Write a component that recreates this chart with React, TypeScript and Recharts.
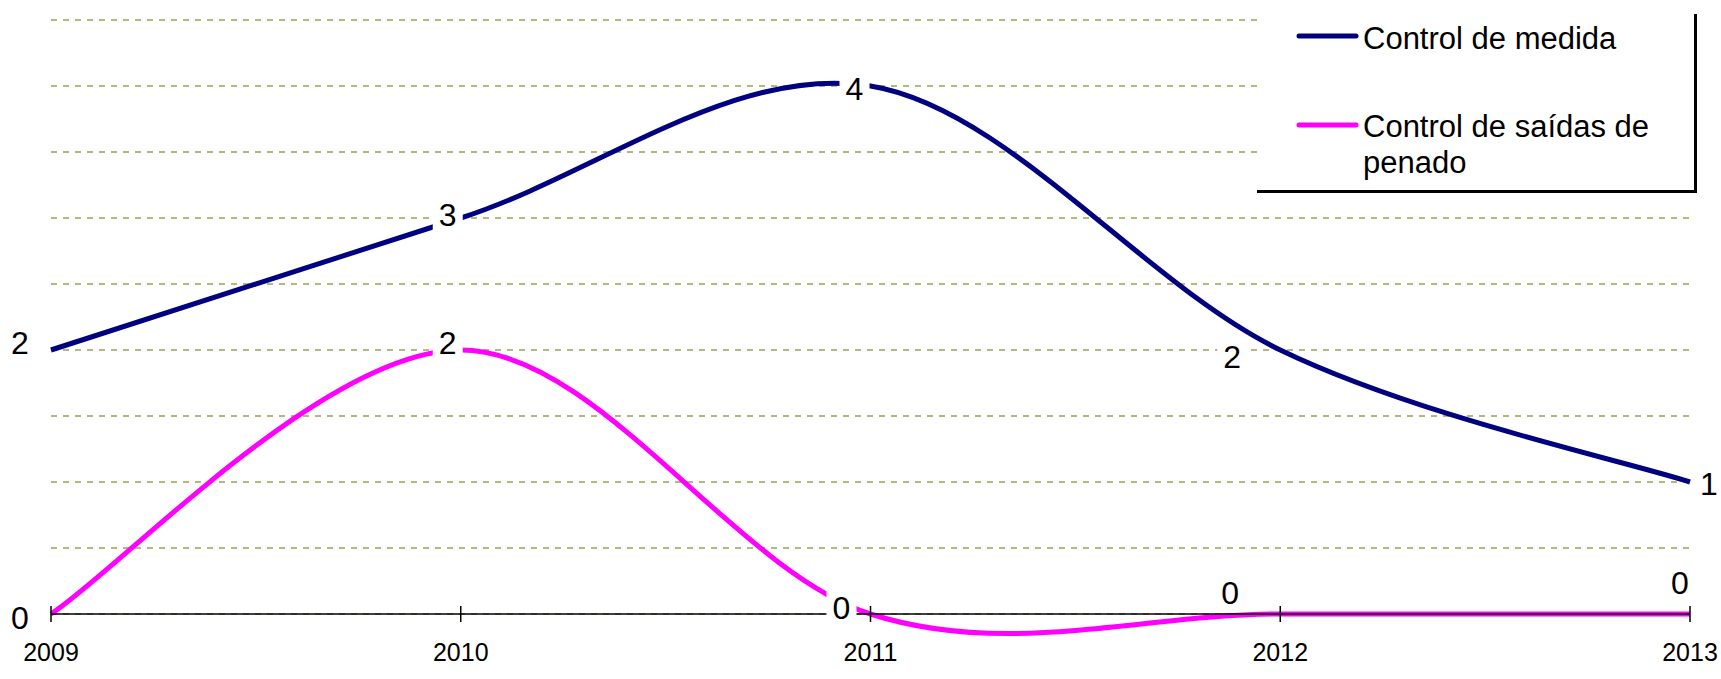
import { LineChart, Line, XAxis, YAxis, CartesianGrid, LabelList, Legend } from 'recharts';

const years = [2009, 2010, 2011, 2012, 2013];
const controlMedida = [2, 3, 4, 2, 1];
const controlSaidas = [0, 2, 0, 0, 0];
const yTicks = [0, 0.5, 1, 1.5, 2, 2.5, 3, 3.5, 4, 4.5];

const seriesNames = ['Control de medida', 'Control de saídas de penado'];
const seriesColors = ['#000080', '#FF00FF'];

// label offsets from each point (px), as placed by hand in the original
const medidaLabelOffsets = [[-31, -8], [-13, -4], [-16, 2], [-48, 6], [19, 1]];
const saidasLabelOffsets = [[-31, 3], [-13, -8], [-29, -7], [-50, -22], [-10, -32]];

const FONT = '"Liberation Sans", Arial, sans-serif';

const chartData = years.map((year, i) => ({
  year,
  medida: controlMedida[i],
  saidas: controlSaidas[i],
}));

// Excel style smoothing (Catmull-Rom, 1/6 tangents)
function excelSmooth(context: any) {
  let pts: number[][] = [];
  return {
    areaStart() {},
    areaEnd() {},
    lineStart() {
      pts = [];
    },
    lineEnd() {
      const n = pts.length;
      if (!n) return;
      context.moveTo(pts[0][0], pts[0][1]);
      for (let i = 0; i < n - 1; i++) {
        const p0 = pts[i - 1] || pts[i];
        const p1 = pts[i];
        const p2 = pts[i + 1];
        const p3 = pts[i + 2] || pts[i + 1];
        context.bezierCurveTo(
          p1[0] + (p2[0] - p0[0]) / 6,
          p1[1] + (p2[1] - p0[1]) / 6,
          p2[0] - (p3[0] - p1[0]) / 6,
          p2[1] - (p3[1] - p1[1]) / 6,
          p2[0],
          p2[1],
        );
      }
    },
    point(x: number, y: number) {
      pts.push([+x, +y]);
    },
  };
}

const makeLabel = (offsets: number[][]) => (props: any) => {
  const { x, y, value, index } = props;
  const [dx, dy] = offsets[index] || [0, 0];
  const cx = x + dx;
  const cy = y + dy;
  return (
    <g key={`lbl-${index}`}>
      <rect x={cx - 15} y={cy - 19} width={30} height={38} fill="#fff" />
      <text x={cx} y={cy + 11.5} textAnchor="middle" fontSize={32} fontFamily={FONT} fill="#000">
        {value}
      </text>
    </g>
  );
};

const YearTick = ({ x, y, payload }: any) => (
  <g>
    <line x1={x} x2={x} y1={y - 8} y2={y + 8} stroke="#000" strokeWidth={1.5} />
    <text x={x} y={y + 47} textAnchor="middle" fontSize={25} fontFamily={FONT} fill="#000">
      {payload.value}
    </text>
  </g>
);

const LegendBox = () => (
  <div
    style={{
      position: 'relative',
      boxSizing: 'border-box',
      width: 440,
      height: 179,
      background: '#fff',
      borderRight: '3px solid #000',
      borderBottom: '3px solid #000',
      fontFamily: FONT,
      fontSize: 31,
      color: '#000',
    }}
  >
    {seriesNames.map((name, i) => (
      <div key={name}>
        <svg
          width={64}
          height={8}
          style={{ position: 'absolute', left: 39, top: i === 0 ? 18 : 107 }}
        >
          <line x1={3} x2={60} y1={4} y2={4} stroke={seriesColors[i]} strokeWidth={5} strokeLinecap="round" />
        </svg>
        <div
          style={{
            position: 'absolute',
            left: 106,
            top: i === 0 ? 7 : 95,
            width: 330,
            lineHeight: '36px',
            whiteSpace: 'nowrap',
          }}
        >
          {i === 0 ? name : (
            <>
              Control de saídas de
              <br />
              penado
            </>
          )}
        </div>
      </div>
    ))}
  </div>
);

export default function App() {
  return (
    <div style={{ position: 'absolute', left: 0, top: 0, width: 1721, height: 679, background: '#fff' }}>
      <LineChart
        width={1721}
        height={679}
        data={chartData}
        margin={{ top: 20, right: 31, left: 51, bottom: 25 }}
      >
        <CartesianGrid vertical={false} stroke="#6f6f00" strokeDasharray="6 6" strokeWidth={1.2} />
        <XAxis
          dataKey="year"
          type="number"
          domain={[2009, 2013]}
          ticks={years}
          height={40}
          axisLine={{ stroke: '#000', strokeWidth: 1.5 }}
          tickLine={false}
          tickSize={0}
          tickMargin={0}
          tick={<YearTick />}
          interval={0}
        />
        <YAxis hide domain={[0, 4.5]} ticks={yTicks} />
        <Legend
          verticalAlign="middle"
          align="center"
          layout="horizontal"
          wrapperStyle={{ top: 14, left: 1257, width: 440 }}
          content={() => <LegendBox />}
        />
        <Line
          dataKey="medida"
          name={seriesNames[0]}
          type={excelSmooth as any}
          stroke={seriesColors[0]}
          strokeWidth={5}
          dot={false}
          activeDot={false}
          isAnimationActive={false}
        >
          <LabelList dataKey="medida" content={makeLabel(medidaLabelOffsets)} />
        </Line>
        <Line
          dataKey="saidas"
          name={seriesNames[1]}
          type={excelSmooth as any}
          stroke={seriesColors[1]}
          strokeWidth={5}
          dot={false}
          activeDot={false}
          isAnimationActive={false}
        >
          <LabelList dataKey="saidas" content={makeLabel(saidasLabelOffsets)} />
        </Line>
      </LineChart>
    </div>
  );
}
